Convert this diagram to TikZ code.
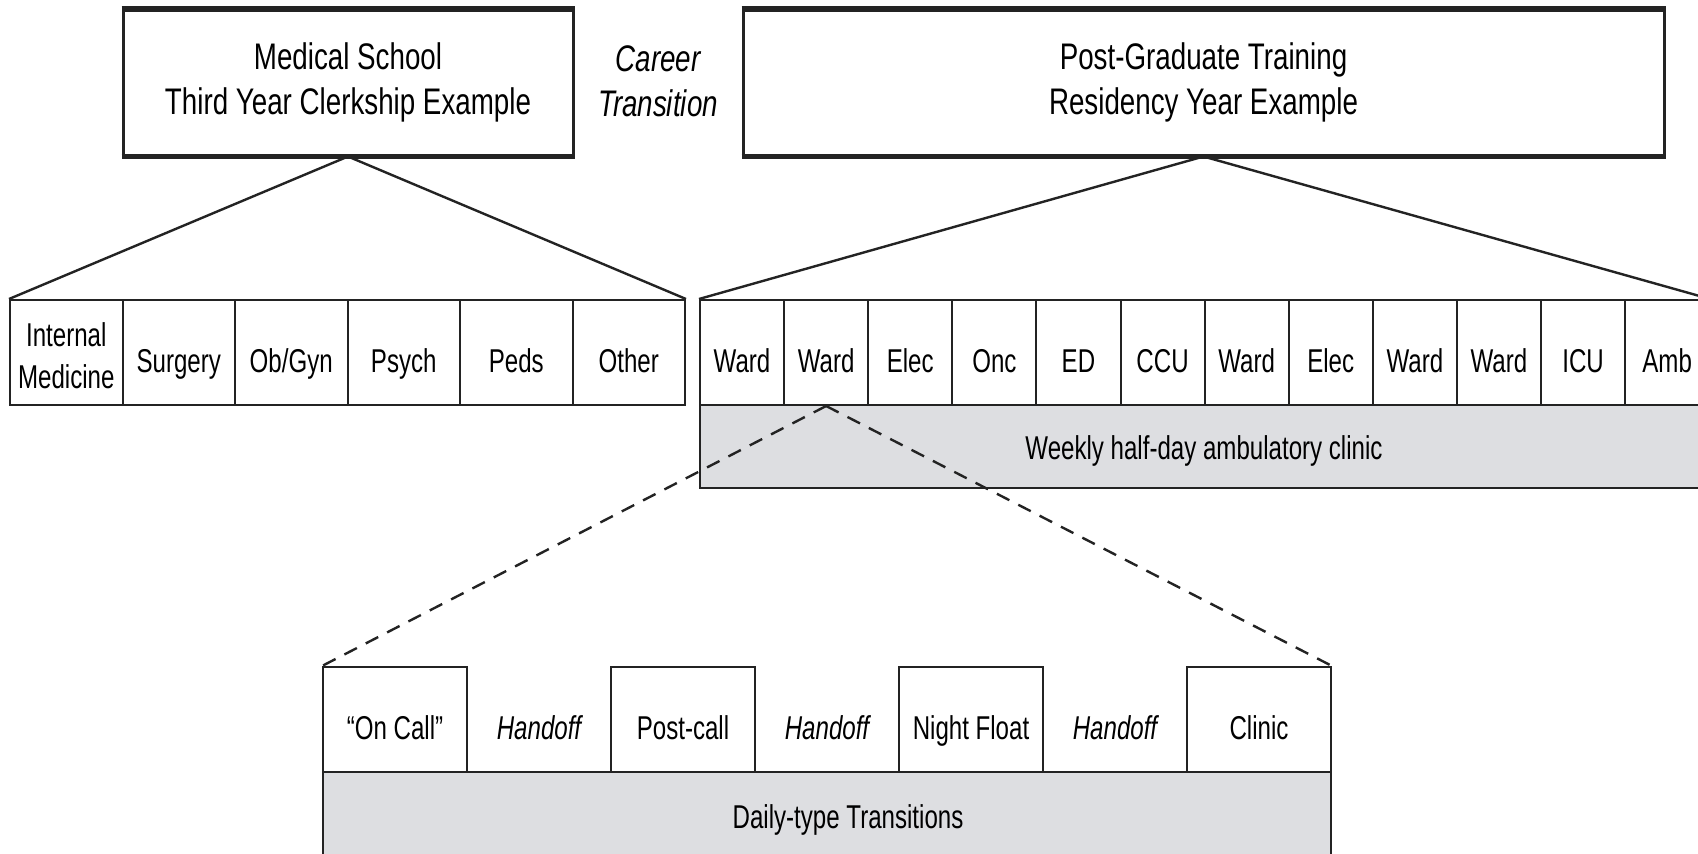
\documentclass[tikz,border=0pt]{standalone}
\usepackage{fontspec}
\setmainfont[FakeStretch=0.75]{Liberation Sans}
\newfontfamily\cellfam[FakeStretch=0.73]{Liberation Sans}
\definecolor{lc}{RGB}{35,35,35}
\definecolor{bandgray}{RGB}{221,222,225}
\newcommand\myTopFont{\fontsize{18.5}{22.5}\selectfont}
\newcommand\myCellFont{\cellfam\fontsize{16.5}{21}\selectfont}
\begin{document}
\begin{tikzpicture}[x=0.5pt,y=-0.5pt,
  conn/.style={draw=lc,line width=1.2pt},
  dconn/.style={draw=lc,line width=1.2pt,dash pattern=on 7pt off 5pt},
  topbox/.style={draw=lc,line width=1.5pt,inner sep=0pt,minimum height=72.5pt,align=center,font=\myTopFont},
  thickedge/.style={draw=lc,line width=2.5pt},
  cell/.style={draw=lc,line width=1pt,inner sep=0pt,minimum height=52.5pt,font=\myCellFont,text height=19.5pt,text depth=0pt},
  lcell/.style={cell,minimum width=56.25pt},
  rcell/.style={cell,minimum width=42.05pt},
  dcell/.style={cell,minimum width=72pt},
  gap/.style={dcell,draw=none,font=\myCellFont\itshape},
  band/.style={draw=lc,line width=1pt,fill=bandgray,inner sep=0pt,font=\myCellFont,text height=13.3pt,text depth=0pt},
  plain/.style={inner sep=0pt,font=\myCellFont,text height=13.3pt,text depth=0pt}
]
\useasboundingbox (0,0) rectangle (1698,853);
\clip (0,0) rectangle (1698,853);
\fill[white] (0,0) rectangle (1698,853);

% top boxes
\node[topbox,minimum width=225pt] (ms) at (348,82.5) {Medical School\\Third Year Clerkship Example};
\node[topbox,minimum width=460.5pt] (pg) at (1203.5,82.5) {Post-Graduate Training\\Residency Year Example};
\draw[thickedge] (ms.north west) -- (ms.north east);
\draw[thickedge] (ms.south west) -- (ms.south east);
\draw[thickedge] (pg.north west) -- (pg.north east);
\draw[thickedge] (pg.south west) -- (pg.south east);
\node[align=center,font=\myTopFont\itshape,inner sep=0pt] (ct) at (658,81) {Career\\Transition};

% clerkship row
\node[cell,minimum width=56.25pt,align=center,text height=,text depth=] (c1) at (66.25,352.5) {\raisebox{-5.85pt}[0pt][0pt]{\parbox{50pt}{\centering Internal\\Medicine}}};
\foreach \t [count=\i from 2] in {Surgery,Ob/Gyn,Psych,Peds,Other}
  \node[lcell] (c\i) at ({10+112.5*(\i-0.5)},352.5) {\t};

% weekly band
\node[band,minimum width=504pt,minimum height=41.5pt] (wk) at (1204,446.5) {Weekly half-day ambulatory clinic};

% residency row
\foreach \t [count=\i] in {Ward,Ward,Elec,Onc,ED,CCU,Ward,Elec,Ward,Ward,ICU,Amb}
  \node[rcell] (r\i) at ({700+84.1*(\i-0.5)},352.5) {\t};

% triangles
\draw[conn] (ms.south) -- (c1.north west);
\draw[conn] (ms.south) -- (c6.north east);
\draw[conn] (pg.south) -- (r1.north west);
\draw[conn] (pg.south) -- (r12.north east);

% daily band
\node[band,minimum width=504pt,minimum height=43pt] (dy) at (827,815) {};
\node[plain] (dyt) at (848,815) {Daily-type Transitions};

% daily row
\node[dcell] (d1) at ({323+144*0.5},719.5) {“On Call”};
\node[gap]   (d2) at ({323+144*1.5},719.5) {Handoff};
\node[dcell] (d3) at ({323+144*2.5},719.5) {Post-call};
\node[gap]   (d4) at ({323+144*3.5},719.5) {Handoff};
\node[dcell] (d5) at ({323+144*4.5},719.5) {Night Float};
\node[gap]   (d6) at ({323+144*5.5},719.5) {Handoff};
\node[dcell] (d7) at ({323+144*6.5},719.5) {Clinic};

% zoom lines
\draw[dconn] (r2.south) -- (d1.north west);
\draw[dconn] (r2.south) -- (d7.north east);
\end{tikzpicture}
\end{document}
